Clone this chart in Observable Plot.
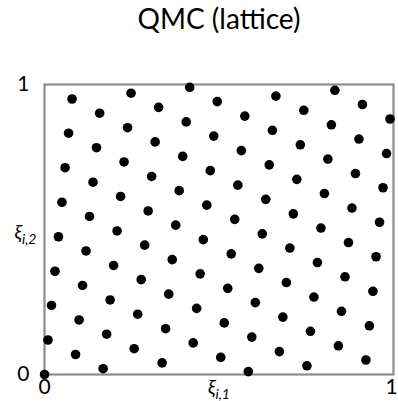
<!DOCTYPE html>
<html><head><meta charset="utf-8">
<script src="https://cdn.jsdelivr.net/npm/d3@7"></script>
<script src="https://cdn.jsdelivr.net/npm/@observablehq/plot@0.6"></script>
<style>body{margin:0;background:#fff} svg{display:block}</style>
</head><body><div id="chart"></div>
<script>
const title = "QMC (lattice)";
const xLabel = "ξ|i,1";
const yLabel = "ξ|i,2";
const xTicks = [0, 1];
const yTicks = [0, 1];
const xs = [0.000,0.010,0.020,0.030,0.040,0.050,0.059,0.069,0.079,0.089,
0.099,0.109,0.119,0.129,0.139,0.149,0.158,0.168,0.178,0.188,
0.198,0.208,0.218,0.228,0.238,0.248,0.257,0.267,0.277,0.287,
0.297,0.307,0.317,0.327,0.337,0.347,0.356,0.366,0.376,0.386,
0.396,0.406,0.416,0.426,0.436,0.446,0.455,0.465,0.475,0.485,
0.495,0.505,0.515,0.525,0.535,0.545,0.554,0.564,0.574,0.584,
0.594,0.604,0.614,0.624,0.634,0.644,0.653,0.663,0.673,0.683,
0.693,0.703,0.713,0.723,0.733,0.743,0.752,0.762,0.772,0.782,
0.792,0.802,0.812,0.822,0.832,0.842,0.851,0.861,0.871,0.881,
0.891,0.901,0.911,0.921,0.931,0.941,0.950,0.960,0.970,0.980,0.990];
const ys = [0.000,0.119,0.238,0.356,0.475,0.594,0.713,0.832,0.950,0.069,
0.188,0.307,0.426,0.545,0.663,0.782,0.901,0.020,0.139,0.257,
0.376,0.495,0.614,0.733,0.851,0.970,0.089,0.208,0.327,0.446,
0.564,0.683,0.802,0.921,0.040,0.158,0.277,0.396,0.515,0.634,
0.752,0.871,0.990,0.109,0.228,0.347,0.465,0.584,0.703,0.822,
0.941,0.059,0.178,0.297,0.416,0.535,0.653,0.772,0.891,0.010,
0.129,0.248,0.366,0.485,0.604,0.723,0.842,0.960,0.079,0.198,
0.317,0.436,0.554,0.673,0.792,0.911,0.030,0.149,0.267,0.386,
0.505,0.624,0.743,0.861,0.980,0.099,0.218,0.337,0.455,0.574,
0.693,0.812,0.931,0.050,0.168,0.287,0.406,0.525,0.644,0.762,0.881];
const data = xs.map((x, i) => ({x, y: ys[i]}));

const chart = Plot.plot({
  width: 398, height: 401,
  marginLeft: 44, marginRight: 5, marginTop: 84, marginBottom: 27,
  style: {fontFamily: "Lato", background: "white", color: "black", overflow: "visible"},
  x: {domain: [0, 1]},
  y: {domain: [0, 1]},
  marks: [
    Plot.frame({stroke: "#8c8c8c", strokeWidth: 2.2}),
    Plot.axisX({ticks: [xTicks[0]], tickSize: 0, tickPadding: 5, fontSize: 21, label: null, tickFormat: d => String(d)}),
    Plot.axisX({ticks: [xTicks[1]], tickSize: 0, tickPadding: 5, fontSize: 21, label: null, dx: -2, tickFormat: d => String(d)}),
    Plot.axisY({ticks: yTicks, tickSize: 0, tickPadding: 15, fontSize: 21, label: null, tickFormat: d => String(d)}),
    Plot.dot(data, {x: "x", y: "y", r: 4.8, fill: "black"}),
    Plot.text([title], {text: d => d, frameAnchor: "top", lineAnchor: "middle", textAnchor: "middle", dy: -64, fontSize: 28}),
    Plot.text([xLabel], {text: d => d, frameAnchor: "bottom", lineAnchor: "middle", textAnchor: "middle", dy: 13, fontSize: 20}),
    Plot.text([yLabel], {text: d => d, frameAnchor: "left", lineAnchor: "middle", textAnchor: "middle", dx: -19, dy: 3, fontSize: 20})
  ]
});
chart.querySelectorAll("text").forEach(t => {
  const s = t.textContent;
  if (s.includes("|")) {
    const [a, b] = s.split("|");
    t.textContent = "";
    const ns = "http://www.w3.org/2000/svg";
    const t1 = document.createElementNS(ns, "tspan");
    t1.textContent = a; t1.setAttribute("font-style", "italic");
    const t2 = document.createElementNS(ns, "tspan");
    t2.textContent = b; t2.setAttribute("font-size", "14"); t2.setAttribute("dy", "5");
    t2.setAttribute("font-style", "italic");
    t.appendChild(t1); t.appendChild(t2);
  }
});
document.getElementById("chart").appendChild(chart);
</script>
</body></html>
